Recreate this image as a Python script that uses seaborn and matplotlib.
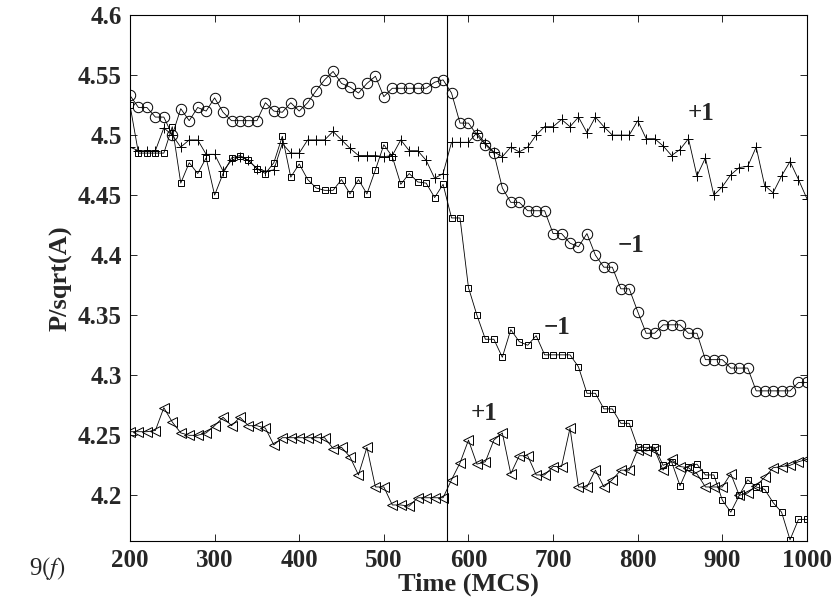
import numpy as np
import pandas as pd
import seaborn as sns
import matplotlib
matplotlib.use("Agg")
import matplotlib.pyplot as plt

# time axis (MCS), one sample every 10 steps
time = list(range(200, 1001, 10))

circles = [4.533, 4.523, 4.523, 4.515, 4.515, 4.500, 4.522, 4.512, 4.523, 4.520,
           4.531, 4.519, 4.512, 4.512, 4.512, 4.512, 4.527, 4.520, 4.519, 4.527,
           4.520, 4.527, 4.537, 4.546, 4.553, 4.543, 4.540, 4.535, 4.543, 4.549,
           4.532, 4.539, 4.539, 4.539, 4.539, 4.539, 4.544, 4.546, 4.535, 4.510,
           4.510, 4.500, 4.492, 4.485, 4.456, 4.444, 4.444, 4.437, 4.437, 4.437,
           4.418, 4.418, 4.410, 4.407, 4.418, 4.400, 4.390, 4.390, 4.372, 4.372,
           4.353, 4.335, 4.335, 4.342, 4.342, 4.342, 4.335, 4.335, 4.313, 4.313,
           4.313, 4.306, 4.306, 4.306, 4.287, 4.287, 4.287, 4.287, 4.287, 4.294,
           4.294]

plus = [4.490, 4.487, 4.487, 4.487, 4.506, 4.500, 4.490, 4.496, 4.496, 4.484,
        4.484, 4.470, 4.479, 4.482, 4.479, 4.472, 4.470, 4.471, 4.493, 4.485,
        4.485, 4.496, 4.496, 4.496, 4.503, 4.496, 4.489, 4.483, 4.483, 4.483,
        4.482, 4.483, 4.496, 4.487, 4.487, 4.479, 4.464, 4.468, 4.494, 4.494,
        4.494, 4.502, 4.493, 4.486, 4.482, 4.490, 4.486, 4.490, 4.500, 4.507,
        4.507, 4.513, 4.507, 4.515, 4.502, 4.515, 4.507, 4.500, 4.500, 4.500,
        4.512, 4.497, 4.497, 4.491, 4.483, 4.488, 4.497, 4.466, 4.481, 4.450,
        4.457, 4.467, 4.473, 4.474, 4.490, 4.458, 4.452, 4.466, 4.478, 4.463,
        4.447]

squares = [4.525, 4.485, 4.485, 4.485, 4.485, 4.507, 4.460, 4.477, 4.468, 4.481,
           4.450, 4.468, 4.481, 4.483, 4.479, 4.472, 4.468, 4.477, 4.499, 4.465,
           4.476, 4.463, 4.456, 4.454, 4.454, 4.463, 4.451, 4.463, 4.451, 4.471,
           4.492, 4.482, 4.459, 4.468, 4.461, 4.460, 4.448, 4.459, 4.431, 4.431,
           4.373, 4.350, 4.330, 4.330, 4.315, 4.338, 4.328, 4.325, 4.333, 4.317,
           4.317, 4.317, 4.317, 4.307, 4.285, 4.285, 4.272, 4.272, 4.260, 4.260,
           4.240, 4.240, 4.240, 4.225, 4.228, 4.208, 4.224, 4.226, 4.217, 4.217,
           4.196, 4.186, 4.200, 4.213, 4.207, 4.205, 4.194, 4.186, 4.163, 4.180,
           4.180]

triangles = [4.253, 4.253, 4.253, 4.254, 4.273, 4.261, 4.252, 4.250, 4.250, 4.252,
             4.258, 4.265, 4.258, 4.265, 4.258, 4.258, 4.256, 4.242, 4.248, 4.248,
             4.248, 4.248, 4.248, 4.248, 4.239, 4.240, 4.232, 4.217, 4.240, 4.207,
             4.207, 4.192, 4.192, 4.191, 4.198, 4.198, 4.198, 4.198, 4.213, 4.227,
             4.246, 4.226, 4.228, 4.246, 4.252, 4.218, 4.233, 4.233, 4.217, 4.217,
             4.224, 4.224, 4.256, 4.207, 4.207, 4.221, 4.207, 4.213, 4.221, 4.221,
             4.238, 4.237, 4.238, 4.221, 4.230, 4.224, 4.223, 4.218, 4.207, 4.207,
             4.207, 4.218, 4.200, 4.202, 4.208, 4.215, 4.223, 4.224, 4.225, 4.228,
             4.230]

switch_time = 575

# curve labels: text, x, y
labels = [("+1", 875, 4.518), ("\u22121", 792, 4.408),
          ("\u22121", 705, 4.340), ("+1", 618, 4.268)]

x_ticks = [200, 300, 400, 500, 600, 700, 800, 900, 1000]
y_ticks = [4.2, 4.25, 4.3, 4.35, 4.4, 4.45, 4.5, 4.55, 4.6]
y_ticklabels = ["4.2", "4.25", "4.3", "4.35", "4.4", "4.45", "4.5", "4.55", "4.6"]

sns.set_style("ticks")
plt.rcParams["font.family"] = ["Liberation Serif", "DejaVu Serif"]
plt.rcParams["mathtext.fontset"] = "stix"

fig = plt.figure(figsize=(8.37, 6.05), dpi=100)
ax = fig.add_axes([0.1553, 0.1058, 0.8088, 0.8694])

# marker style for each series
series = [
    (circles, "o", 7.5),
    (plus, "+", 7.5),
    (squares, "s", 4.5),
    (triangles, "<", 7.5),
]

for vals, mk, ms in series:
    df = pd.DataFrame({"time": time, "value": vals})
    sns.lineplot(data=df, x="time", y="value", ax=ax, color="black",
                 linewidth=0.6, marker=mk, markersize=ms,
                 markerfacecolor="none", markeredgecolor="black",
                 markeredgewidth=0.7)

ax.axvline(switch_time, color="black", linewidth=0.8)

for txt, x, y in labels:
    ax.text(x, y, txt, fontsize=18, fontweight="bold", ha="center", va="center")

ax.set_xlim(200, 1000)
ax.set_ylim(4.162, 4.6)
ax.set_xticks(x_ticks)
ax.set_xticklabels([str(t) for t in x_ticks])
ax.set_yticks(y_ticks)
ax.set_yticklabels(y_ticklabels)
ax.tick_params(direction="in", top=True, right=True, length=5, width=0.7,
               labelsize=18, pad=6)
for lab in ax.get_xticklabels() + ax.get_yticklabels():
    lab.set_fontweight("bold")
for sp in ax.spines.values():
    sp.set_linewidth(0.8)
    sp.set_color("black")

ax.set_xlabel("Time (MCS)", fontsize=19, fontweight="bold", labelpad=0)
ax.set_ylabel("P/sqrt(A)", fontsize=19, fontweight="bold", labelpad=4)

fig.text(0.035, 0.05, r"9$(f)$", fontsize=18)

fig.savefig("out.png", dpi=100)
